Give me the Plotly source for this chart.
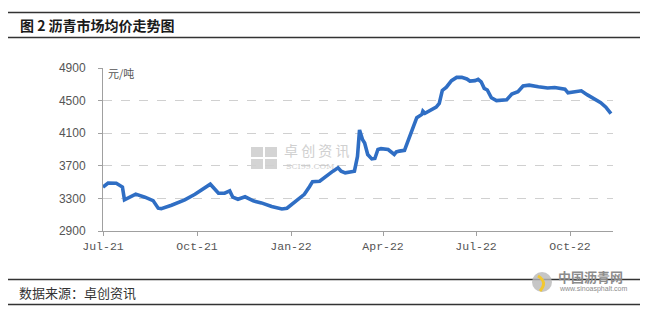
import plotly.graph_objects as go

# ---- data ----
dates = [
    "2021-07-01", "2021-07-06", "2021-07-14", "2021-07-18", "2021-07-20", "2021-07-22",
    "2021-08-02", "2021-08-11", "2021-08-19", "2021-08-24", "2021-08-27", "2021-09-06",
    "2021-09-19", "2021-09-29", "2021-10-09", "2021-10-14", "2021-10-22", "2021-10-28",
    "2021-11-02", "2021-11-05", "2021-11-10", "2021-11-17", "2021-11-25", "2021-12-03",
    "2021-12-13", "2021-12-23", "2021-12-28", "2022-01-05", "2022-01-10", "2022-01-14",
    "2022-01-19", "2022-01-22", "2022-01-29", "2022-02-05", "2022-02-11", "2022-02-16",
    "2022-02-19", "2022-02-23", "2022-02-27", "2022-03-04", "2022-03-07", "2022-03-09",
    "2022-03-12", "2022-03-14", "2022-03-17", "2022-03-21", "2022-03-24", "2022-03-27",
    "2022-03-30", "2022-04-06", "2022-04-12", "2022-04-14", "2022-04-17", "2022-04-22",
    "2022-04-25", "2022-04-29", "2022-05-04", "2022-05-09", "2022-05-10", "2022-05-12",
    "2022-05-18", "2022-05-23", "2022-05-26", "2022-05-29", "2022-06-02", "2022-06-07",
    "2022-06-12", "2022-06-17", "2022-06-22", "2022-06-25", "2022-06-30", "2022-07-03",
    "2022-07-06", "2022-07-09", "2022-07-12", "2022-07-16", "2022-07-21", "2022-07-27",
    "2022-07-31", "2022-08-05", "2022-08-11", "2022-08-16", "2022-08-22", "2022-08-31",
    "2022-09-09", "2022-09-16", "2022-09-22", "2022-09-26", "2022-09-29", "2022-10-06",
    "2022-10-12", "2022-10-18", "2022-10-25", "2022-10-31", "2022-11-05", "2022-11-10",
]
prices = [
    3438, 3487, 3485, 3450, 3440, 3282,
    3352, 3315, 3273, 3180, 3175, 3216,
    3282, 3350, 3430, 3474, 3364, 3364,
    3392, 3315, 3290, 3320, 3270, 3245,
    3200, 3171, 3180, 3260, 3300, 3350,
    3443, 3505, 3510, 3580, 3634, 3675,
    3634, 3614, 3620, 3634, 3815, 4140,
    4020, 3980, 3838, 3785, 3790, 3900,
    3910, 3900, 3840, 3870, 3880, 3890,
    3990, 4130, 4290, 4330, 4370, 4345,
    4380, 4420, 4465, 4625, 4665, 4745,
    4785, 4785, 4765, 4740, 4745, 4760,
    4730, 4650, 4630, 4535, 4500, 4500,
    4510, 4580, 4610, 4680, 4690, 4670,
    4655, 4660, 4645, 4640, 4595, 4610,
    4620, 4570, 4525, 4475, 4420, 4340,
]
x_ticks = ["2021-07-01", "2021-10-01", "2022-01-01", "2022-04-01", "2022-07-01", "2022-10-01"]
x_tick_labels = ["Jul-21", "Oct-21", "Jan-22", "Apr-22", "Jul-22", "Oct-22"]
y_ticks = [2900, 3300, 3700, 4100, 4500, 4900]

title_text = "图 2 沥青市场均价走势图"
unit_text = "元/吨"
source_text = "数据来源：卓创资讯"

# ---- layout geometry (pixels) ----
W, H = 648, 310
L, R, T, B = 103, 613, 68, 231
def px(x):
    return (x - L) / (R - L)
def py(y):
    return (B - y) / (B - T)

fig = go.Figure()
fig.add_trace(go.Scatter(
    x=dates, y=prices, mode="lines",
    line=dict(color="#2F6EC4", width=3.6),
    hoverinfo="skip", showlegend=False,
))

grid = "#D0D0D0"
axis_col = "#A0A0A0"
fig.update_layout(
    width=W, height=H,
    margin=dict(l=L, r=W - R, t=T, b=H - B),
    paper_bgcolor="white", plot_bgcolor="white",
    showlegend=False,
    xaxis=dict(
        type="date", range=["2021-07-01", "2022-11-12"],
        tickvals=x_ticks, ticktext=x_tick_labels,
        showgrid=False, showline=True, linecolor=axis_col, linewidth=1,
        ticks="outside", ticklen=4, tickcolor=axis_col,
        tickfont=dict(family="Liberation Mono", size=11.5, color="#555555"),
        zeroline=False,
    ),
    yaxis=dict(
        range=[2900, 4900], tickvals=y_ticks,
        showgrid=True, gridcolor=grid, griddash="dash", gridwidth=1,
        showline=True, linecolor=axis_col, linewidth=1,
        ticks="outside", ticklen=4, tickcolor=axis_col,
        ticklabelstandoff=10,
        tickfont=dict(family="Liberation Sans", size=12, color="#555555"),
        zeroline=False,
    ),
    font=dict(family="Noto Sans CJK SC"),
)

shapes = []
for yy in (12.5, 37.5, 279.5, 304.5):
    shapes.append(dict(type="line", xref="paper", yref="paper",
                       x0=px(8), x1=px(640), y0=py(yy), y1=py(yy),
                       line=dict(color="#333333", width=1.3)))
# watermark icon squares (below the data line)
for (a, b, c, d) in ((251, 263, 147, 157), (265, 277, 147, 157), (251, 263, 159, 169), (265, 277, 159, 169)):
    shapes.append(dict(type="rect", xref="paper", yref="paper", layer="below",
                       x0=px(a), x1=px(b), y0=py(d), y1=py(c),
                       fillcolor="#D4D4D4", line=dict(width=0)))
# logo circle
shapes.append(dict(type="circle", xref="paper", yref="paper",
                   x0=px(532), x1=px(552), y0=py(292), y1=py(272),
                   fillcolor="#B8B8B8", line=dict(width=0), opacity=0.8))
shapes.append(dict(type="path", xref="paper", yref="paper",
                   path=f"M {px(538)},{py(276)} Q {px(548)},{py(282)} {px(540)},{py(291)}",
                   line=dict(color="#F2C830", width=3)))
fig.update_layout(shapes=shapes)

ann = []
ann.append(dict(text=f"<b>{title_text}</b>", x=px(18), y=py(25), xref="paper", yref="paper",
                xanchor="left", yanchor="middle", showarrow=False,
                font=dict(family="Noto Sans CJK SC", size=14, color="#1A1A1A")))
ann.append(dict(text=unit_text, x=px(106), y=py(73), xref="paper", yref="paper",
                xanchor="left", yanchor="middle", showarrow=False,
                font=dict(family="Noto Sans CJK SC", size=11, color="#555555")))
ann.append(dict(text=source_text, x=px(17), y=py(292), xref="paper", yref="paper",
                xanchor="left", yanchor="middle", showarrow=False,
                font=dict(family="Noto Sans CJK SC", size=13, color="#333333")))
# watermark
ann.append(dict(text="卓 创 资 讯", x=px(282), y=py(150), xref="paper", yref="paper",
                xanchor="left", yanchor="middle", showarrow=False,
                font=dict(family="Noto Sans CJK SC", size=14, color="#C8C8C8"), opacity=0.85))
ann.append(dict(text="SCI99.COM", x=px(284), y=py(166), xref="paper", yref="paper",
                xanchor="left", yanchor="middle", showarrow=False,
                font=dict(family="DejaVu Serif", size=8, color="#C8C8C8"), opacity=0.85))
# site logo text
ann.append(dict(text="<b>中国沥青网</b>", x=px(556), y=py(276), xref="paper", yref="paper",
                xanchor="left", yanchor="middle", showarrow=False,
                font=dict(family="Noto Sans CJK SC", size=13, color="#8C8C8C")))
ann.append(dict(text="www.sinoasphalt.com", x=px(557), y=py(289), xref="paper", yref="paper",
                xanchor="left", yanchor="middle", showarrow=False,
                font=dict(family="Liberation Sans", size=7, color="#8C8C8C")))
fig.update_layout(annotations=ann)

fig.write_html("out.html")
